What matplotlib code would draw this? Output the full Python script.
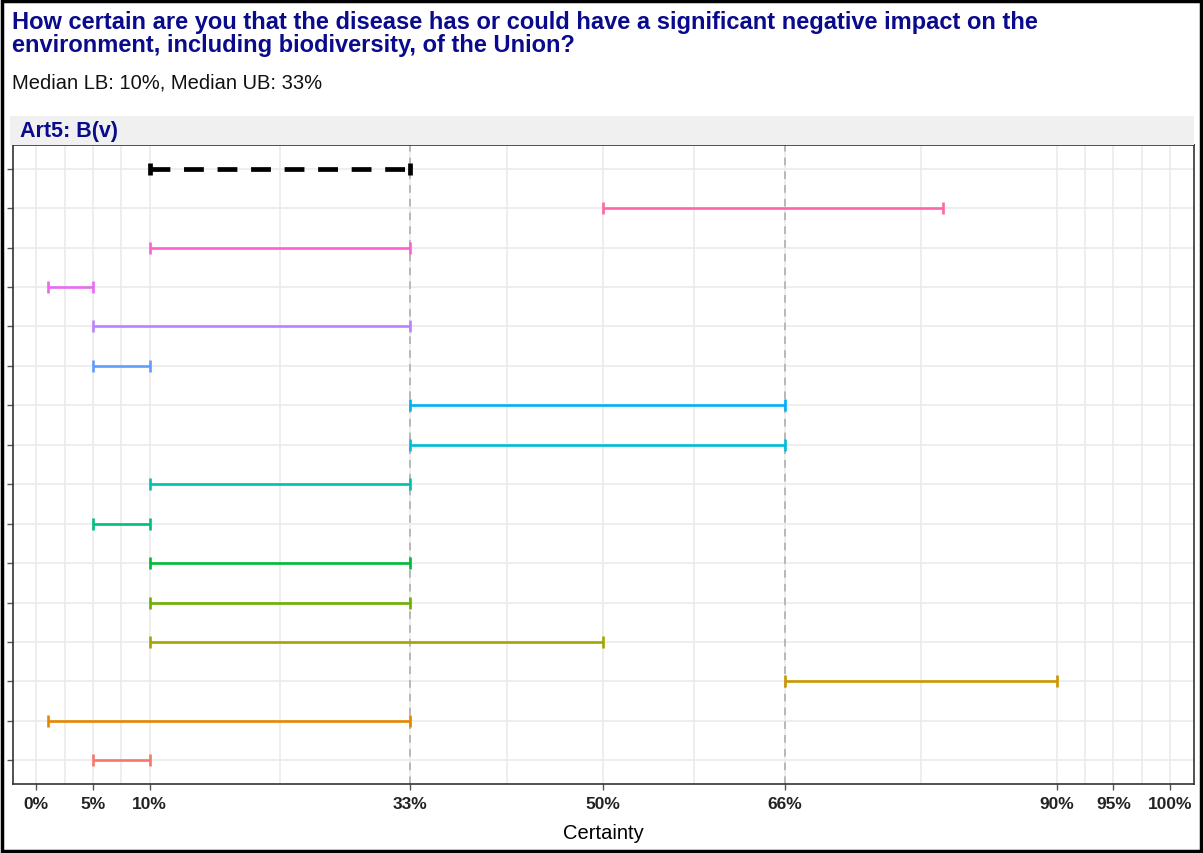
import matplotlib
matplotlib.use("Agg")
import matplotlib.pyplot as plt
from matplotlib.patches import Rectangle

# expert intervals, bottom row first; last entry is the median
lower = [5, 1, 66, 10, 10, 10, 5, 10, 33, 33, 5, 5, 1, 10, 50]
upper = [10, 33, 90, 50, 33, 33, 10, 33, 66, 66, 10, 33, 5, 33, 80]
median_lb, median_ub = 10, 33
colors = ["#F8766D", "#E58700", "#C99800", "#A3A500", "#6BB100", "#00BA38",
          "#00BF7D", "#00C0AF", "#00BCD8", "#00B0F6", "#619CFF", "#B983FF",
          "#E76BF3", "#FD61D1", "#FF67A4"]
xticks = [0, 5, 10, 33, 50, 66, 90, 95, 100]
xminor = [2.5, 7.5, 21.5, 41.5, 58, 78, 92.5, 97.5]
ref_lines = [33, 66]

sans = ["Liberation Sans", "DejaVu Sans"]
navy = "#0A0A8C"

fig = plt.figure(figsize=(12.03, 8.54), dpi=100)
W, H = 1203, 854
ax = fig.add_axes([13 / W, 1 - 785 / H, (1194 - 13) / W, (785 - 146) / H])

# grid
for x in xticks + xminor:
    ax.axvline(x, color="#EBEBEB", lw=1.2, zorder=0)
n = len(lower) + 1
for y in range(1, n + 1):
    ax.axhline(y, color="#EBEBEB", lw=1.2, zorder=0)
for x in ref_lines:
    ax.axvline(x, color="#AAAAAA", lw=1.1, ls=(0, (5, 4)), zorder=1)

for i, (lo, hi, c) in enumerate(zip(lower, upper, colors)):
    ax.errorbar((lo + hi) / 2, i + 1, xerr=(hi - lo) / 2, fmt="none",
                ecolor=c, elinewidth=1.9, capsize=4.5, capthick=1.9, zorder=3)

eb = ax.errorbar((median_lb + median_ub) / 2, n, xerr=(median_ub - median_lb) / 2,
                 fmt="none", ecolor="black", elinewidth=3.4, capsize=4, capthick=3.4,
                 zorder=4)
eb[2][0].set_linestyle((0, (4.2, 2.9)))

ax.set_xlim(-2.05, 102.1)
ax.set_ylim(0.4, n + 0.6)
ax.set_xticks(xticks)
ax.set_xticklabels([f"{t}%" for t in xticks], family=sans, fontweight="bold",
                   fontsize=12.5, color="#222222")
ax.set_yticks(range(1, n + 1))
ax.set_yticklabels([])
ax.tick_params(axis="both", length=4, color="#555555", width=1)
ax.tick_params(axis="x", pad=5)
ax.set_xlabel("Certainty", family=sans, fontsize=14.5, labelpad=8)
for s in ax.spines.values():
    s.set_color("#333333")
    s.set_linewidth(1.2)

# facet strip
fig.patches.append(Rectangle((10 / W, 1 - 146 / H), (1194 - 10) / W, 29 / H,
                             transform=fig.transFigure, facecolor="#F0F0F0",
                             edgecolor="none", zorder=0))
fig.text(20 / W, 1 - 131 / H, "Art5: B(v)", color=navy, fontsize=15.5,
         fontweight="bold", family=sans, va="center")

fig.text(12 / W, 1 - 11 / H,
         "How certain are you that the disease has or could have a significant negative impact on the\n"
         "environment, including biodiversity, of the Union?",
         color=navy, fontsize=17, fontweight="bold", family=sans, va="top",
         linespacing=1.0)
fig.text(12 / W, 1 - 83 / H, "Median LB: 10%, Median UB: 33%", family=sans,
         fontsize=14.5, va="center", color="#111111")

# outer frame of the screenshot
fig.patches.append(Rectangle((0.002, 0.002), 0.996, 0.996, transform=fig.transFigure,
                             facecolor="none", edgecolor="black", lw=2.5))

fig.savefig("out.png", dpi=100)
